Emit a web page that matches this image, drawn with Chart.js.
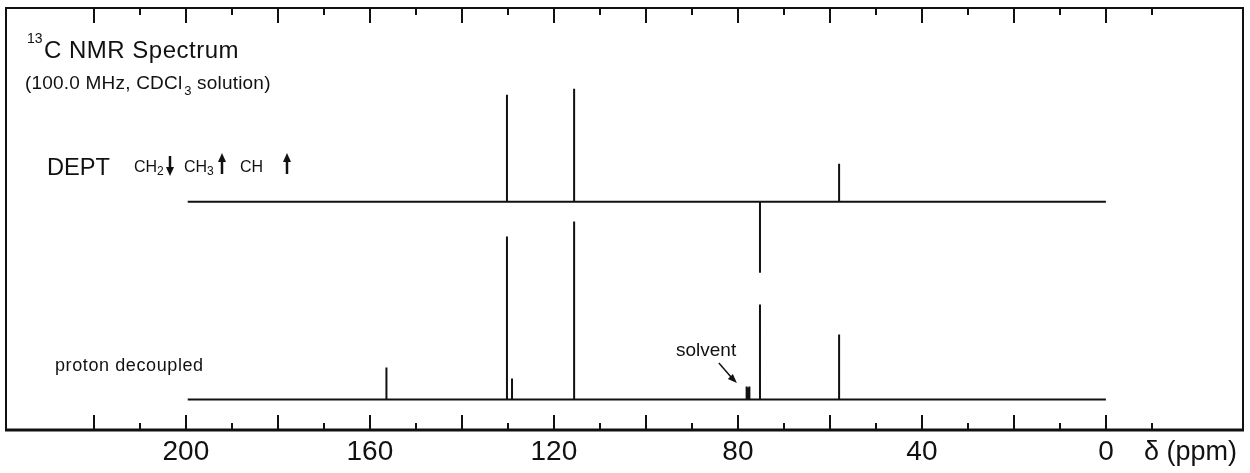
<!DOCTYPE html>
<html>
<head>
<meta charset="utf-8">
<script src="https://cdn.jsdelivr.net/npm/chart.js@4.4.1/dist/chart.umd.min.js"></script>
<style>
html, body { margin: 0; padding: 0; background: #fff; }
#nmr { display: block; }
</style>
</head>
<body>
<canvas id="nmr" width="1250" height="473"></canvas>
<script>
// peaks: shift in ppm, stick height in plot units
const deptPpm = [130.2, 115.6, 75.2, 58.0];
const deptHeight = [107, 113, -71, 38];
const decoupledPpm = [156.4, 130.2, 129.1, 115.6, 78.1, 77.8, 77.5, 75.2, 58.0];
const decoupledHeight = [32, 163, 21, 178, 13, 12, 13, 95, 65];
const solventPpm = 77.8;

const spectrumStart = 199.6;
const spectrumEnd = 0;

const majorTicks = [220, 200, 180, 160, 140, 120, 100, 80, 60, 40, 20, 0];
const minorTicks = [210, 190, 170, 150, 130, 110, 90, 70, 50, 30, 10, -10];
const axisLabels = ['200', '160', '120', '80', '40', '0'];

const deptBase = 228.3;
const decoupledBase = 30.5;
const INK = '#111';
const FONT = '"Liberation Sans", Arial, sans-serif';

function stickSpectrum(ppm, height, base) {
    const pts = [{ x: spectrumStart, y: base }];
    ppm.forEach((p, i) => {
        pts.push({ x: p, y: base }, { x: p, y: base + height[i] }, { x: p, y: base });
    });
    pts.push({ x: spectrumEnd, y: base });
    return pts;
}

// draws text and returns the x where it ends
function text(ctx, str, x, y, size, spacing, maxW) {
    ctx.font = size + 'px ' + FONT;
    ctx.letterSpacing = (spacing || 0) + 'px';
    let w = ctx.measureText(str).width;
    if (maxW) {
        ctx.fillText(str, x, y, maxW);
        w = Math.min(w, maxW);
    } else {
        ctx.fillText(str, x, y);
    }
    ctx.letterSpacing = '0px';
    return x + w;
}

function arrow(ctx, x, y1, y2) {
    // shaft from y1 to y2, head at y2
    const dir = y2 > y1 ? 1 : -1;
    ctx.lineWidth = 2.5;
    ctx.beginPath();
    ctx.moveTo(x, y1);
    ctx.lineTo(x, y2 - dir * 6);
    ctx.stroke();
    ctx.beginPath();
    ctx.moveTo(x - 4, y2 - dir * 9);
    ctx.lineTo(x + 4, y2 - dir * 9);
    ctx.lineTo(x, y2);
    ctx.closePath();
    ctx.fill();
}

const framePlugin = {
    id: 'nmrFrame',
    afterDraw(chart) {
        const ctx = chart.ctx;
        const a = chart.chartArea;
        const xs = chart.scales.x;
        ctx.save();
        ctx.strokeStyle = INK;
        ctx.fillStyle = INK;

        // frame
        ctx.lineWidth = 2;
        ctx.beginPath();
        ctx.moveTo(a.left, a.bottom);
        ctx.lineTo(a.left, a.top);
        ctx.lineTo(a.right, a.top);
        ctx.lineTo(a.right, a.bottom);
        ctx.stroke();
        ctx.lineWidth = 3;
        ctx.beginPath();
        ctx.moveTo(a.left - 1, a.bottom);
        ctx.lineTo(a.right + 1, a.bottom);
        ctx.stroke();

        // ticks top and bottom, pointing inward
        ctx.lineWidth = 2;
        const tick = (v, len) => {
            const px = Math.round(xs.getPixelForValue(v));
            ctx.beginPath();
            ctx.moveTo(px, a.bottom);
            ctx.lineTo(px, a.bottom - len);
            ctx.moveTo(px, a.top);
            ctx.lineTo(px, a.top + len);
            ctx.stroke();
        };
        majorTicks.forEach(v => tick(v, 15));
        minorTicks.forEach(v => tick(v, 7));

        // axis labels
        ctx.textAlign = 'center';
        ctx.textBaseline = 'alphabetic';
        axisLabels.forEach(l => text(ctx, l, xs.getPixelForValue(Number(l)), 460, 28));
        ctx.textAlign = 'left';
        text(ctx, '\u03b4 (ppm)', 1144, 460, 27);

        // title block
        text(ctx, '13', 27, 43, 14);
        text(ctx, 'C NMR Spectrum', 44, 58, 24, 0.5);
        let end = text(ctx, '(100.0 MHz, CDCl', 25, 89, 19, 0.2);
        end = text(ctx, '3', end + 2, 95, 13);
        text(ctx, ' solution)', end, 89, 19, 0.2);

        // DEPT legend
        text(ctx, 'DEPT', 47, 175, 24, 0, 63);
        text(ctx, 'CH', 134, 172, 16);
        text(ctx, '2', 157, 175, 12);
        arrow(ctx, 170, 156, 176);
        text(ctx, 'CH', 184, 172, 16);
        text(ctx, '3', 207, 175, 12);
        arrow(ctx, 222, 174, 153);
        text(ctx, 'CH', 240, 172, 16);
        arrow(ctx, 287, 174, 153);

        // lower trace labels
        text(ctx, 'proton decoupled', 55, 371, 18, 0.6);
        text(ctx, 'solvent', 676, 356, 19);
        const sx = xs.getPixelForValue(solventPpm + 0.9);
        ctx.lineWidth = 1.5;
        ctx.beginPath();
        ctx.moveTo(sx - 25, 363);
        ctx.lineTo(sx - 12, 378);
        ctx.stroke();
        ctx.beginPath();
        ctx.moveTo(sx - 7, 383);
        ctx.lineTo(sx - 16, 379);
        ctx.lineTo(sx - 11, 374);
        ctx.closePath();
        ctx.fill();

        ctx.restore();
    }
};

new Chart(document.getElementById('nmr'), {
    type: 'line',
    data: {
        datasets: [
            {
                label: 'DEPT',
                data: stickSpectrum(deptPpm, deptHeight, deptBase),
                borderColor: INK,
                borderWidth: 2,
                pointRadius: 0,
                tension: 0,
                borderJoinStyle: 'bevel',
                borderCapStyle: 'butt'
            },
            {
                label: 'proton decoupled',
                data: stickSpectrum(decoupledPpm, decoupledHeight, decoupledBase),
                borderColor: INK,
                borderWidth: 2,
                pointRadius: 0,
                tension: 0,
                borderJoinStyle: 'bevel',
                borderCapStyle: 'butt'
            }
        ]
    },
    options: {
        responsive: false,
        animation: false,
        layout: { padding: { left: 6, right: 7, top: 8, bottom: 43 } },
        plugins: {
            legend: { display: false },
            tooltip: { enabled: false }
        },
        scales: {
            x: { type: 'linear', reverse: true, min: -29.8, max: 239.1, display: false },
            y: { type: 'linear', min: 0, max: 422, display: false }
        }
    },
    plugins: [framePlugin]
});
</script>
</body>
</html>
